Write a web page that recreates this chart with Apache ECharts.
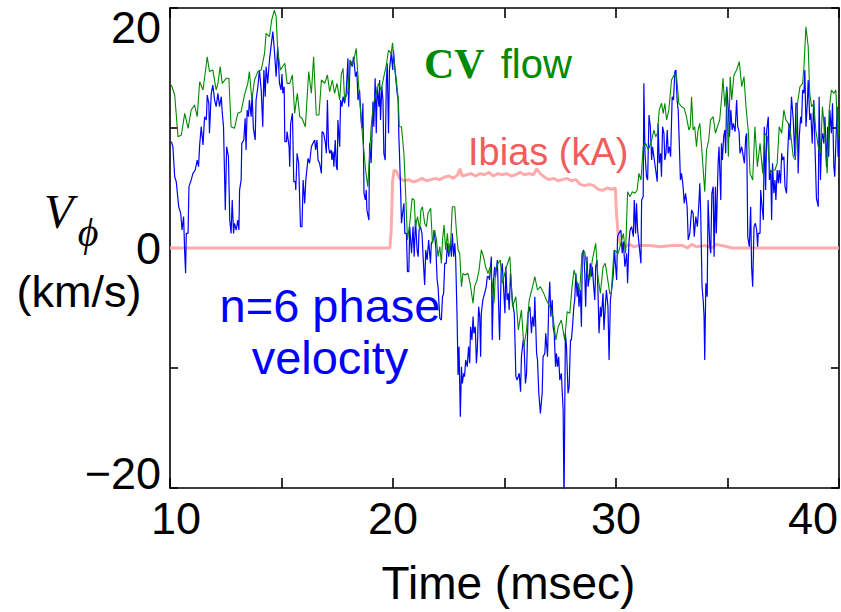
<!DOCTYPE html>
<html><head><meta charset="utf-8">
<script src="https://cdn.jsdelivr.net/npm/echarts@6/dist/echarts.min.js"></script>
<style>html,body{margin:0;padding:0;background:#fff}#c{width:841px;height:612px}</style>
</head><body><div id="c"></div>
<script>
// ---- data (time in msec, velocity in km/s, Ibias in kA) ----
const xTickLabels = [10, 20, 30, 40];
const yTickLabels = [-20, 0, 20];

const cvFlowPts = [
[10.06,13.58],[10.21,12.75],[10.36,9.28],[10.51,9.42],[10.66,11.22],[10.81,9.97],[10.95,11.5],[11.10,11.92],[11.22,10.94],[11.33,13.86],
[11.48,13.17],[11.67,15.94],[11.77,14.7],[11.92,14.83],[12.07,13.17],[12.15,13.72],[12.25,15.11],[12.34,13.72],[12.52,14.14],[12.64,14.14],
[12.74,10.11],[12.89,9.97],[13.04,11.22],[13.19,11.36],[13.34,12.75],[13.49,13.72],[13.56,14.7],[13.67,12.33],[13.79,14.0],[13.94,14.7],
[14.09,14.83],[14.24,16.22],[14.31,17.89],[14.46,17.61],[14.56,19.0],[14.68,19.83],[14.76,19.28],[14.83,16.5],[14.95,14.83],[15.15,15.39],
[15.25,13.72],[15.37,13.72],[15.49,14.42],[15.59,11.22],[15.71,12.89],[15.82,10.94],[15.92,10.81],[16.07,10.11],[16.22,14.7],[16.34,12.89],
[16.44,15.94],[16.56,11.08],[16.68,11.08],[16.79,14.0],[16.94,13.72],[17.06,14.42],[17.16,13.03],[17.28,14.0],[17.38,12.89],[17.49,13.72],
[17.61,12.33],[17.68,14.42],[17.76,14.97],[17.83,12.33],[17.98,13.03],[18.08,15.67],[18.20,15.25],[18.35,16.64],[18.43,14.28],[18.53,11.78],
[18.65,9.0],[18.77,6.5],[18.87,5.11],[19.02,10.11],[19.13,12.06],[19.25,12.89],[19.35,13.72],[19.47,13.17],[19.59,14.28],[19.70,15.25],
[19.80,16.5],[19.92,16.2],[19.98,17.1],[20.05,15.5],[20.15,14.0],[20.24,12.3],[20.28,10.11],[20.38,10.11],[20.49,7.89],[20.56,4.83],
[20.65,0.67],[20.75,2.06],[20.86,4.14],[20.95,4.0],[21.01,1.78],[21.10,2.61],[21.20,1.5],[21.25,3.17],[21.32,3.44],[21.42,2.06],
[21.50,1.78],[21.57,2.89],[21.69,3.31],[21.77,0.39],[21.87,1.5],[21.95,0.67],[22.02,-0.72],[22.10,0.11],[22.17,-1.28],[22.22,0.67],
[22.29,1.92],[22.36,-0.17],[22.44,1.22],[22.51,-0.44],[22.59,0.67],[22.66,3.44],[22.77,3.44],[22.84,1.5],[22.92,-0.17],[22.99,-0.44],
[23.07,-3.22],[23.14,-2.11],[23.24,-2.25],[23.36,-2.11],[23.47,-3.08],[23.59,-4.61],[23.66,-3.22],[23.77,-2.67],[23.86,-1.83],[23.96,-0.17],
[24.06,-0.72],[24.15,-1.56],[24.26,-2.11],[24.36,-1.56],[24.45,-2.94],[24.53,-4.61],[24.60,-1.83],[24.71,-1.28],[24.81,-1.0],[24.90,-2.94],
[25.09,-1.56],[25.24,-0.72],[25.36,-4.89],[25.51,-4.06],[25.62,-6.83],[25.76,-5.17],[25.87,-8.22],[25.99,-6.83],[26.11,-4.33],[26.26,-3.22],
[26.36,-2.39],[26.48,-3.5],[26.61,-3.22],[26.76,-3.78],[26.88,-4.33],[27.03,-4.89],[27.18,-5.72],[27.30,-7.67],[27.41,-6.56],[27.55,-6.0],
[27.70,-7.67],[27.81,-5.31],[27.93,-5.44],[28.03,-3.22],[28.12,-1.83],[28.23,-2.67],[28.37,-3.64],[28.48,-0.44],[28.60,-0.31],[28.72,-2.11],
[28.82,-2.67],[28.94,-1.0],[29.09,0.39],[29.19,-2.39],[29.30,-3.78],[29.42,-1.56],[29.52,-1.28],[29.61,-2.39],[29.72,-3.78],[29.79,-3.78],
[29.91,-0.17],[30.10,-0.44],[30.18,0.11],[30.33,1.22],[30.43,-0.44],[30.52,4.69],[30.63,4.28],[30.73,4.69],[30.85,4.56],[30.95,4.83],
[31.03,6.22],[31.12,5.67],[31.22,8.44],[31.33,8.72],[31.45,8.17],[31.60,9.0],[31.70,9.83],[31.78,9.28],[31.86,9.56],[31.94,11.5],
[32.04,12.06],[32.12,11.22],[32.19,12.06],[32.27,10.67],[32.37,11.5],[32.49,14.0],[32.61,14.42],[32.71,14.42],[32.82,12.06],[32.94,11.78],
[33.06,11.64],[33.16,10.94],[33.27,9.83],[33.33,10.11],[33.39,12.61],[33.46,9.83],[33.53,10.11],[33.61,8.44],[33.68,9.83],[33.76,10.39],
[33.86,7.89],[33.98,4.69],[34.06,8.17],[34.16,9.0],[34.24,10.67],[34.36,10.94],[34.46,9.56],[34.55,10.11],[34.65,10.67],[34.73,12.33],
[34.80,14.14],[34.88,11.78],[34.95,13.17],[35.04,7.61],[35.12,14.28],[35.19,12.33],[35.29,14.42],[35.41,14.83],[35.53,15.53],[35.64,13.44],
[35.74,14.28],[35.83,11.78],[35.94,9.56],[36.01,6.22],[36.13,5.67],[36.23,10.11],[36.34,6.78],[36.46,8.72],[36.58,6.22],[36.68,9.56],
[36.79,9.28],[36.91,6.22],[37.02,6.5],[37.13,6.5],[37.23,7.06],[37.32,10.11],[37.43,9.56],[37.53,11.5],[37.62,10.67],[37.73,10.39],
[37.83,9.56],[37.95,7.61],[38.05,7.33],[38.14,12.06],[38.25,13.44],[38.37,13.72],[38.43,15.11],[38.52,18.44],[38.62,16.78],[38.69,12.89],
[38.77,11.78],[38.87,12.06],[38.96,9.83],[39.07,8.44],[39.17,7.89],[39.26,11.78],[39.37,9.28],[39.47,6.22],[39.56,11.5],[39.66,13.17],
[39.77,12.89],[39.86,13.17],[39.96,9.0],[40.0,11.5]
];

const phaseVelPts = [
[10.06,8.86],[10.13,8.44],[10.21,5.94],[10.28,5.53],[10.39,3.44],[10.48,2.89],[10.54,1.5],[10.61,2.61],[10.66,-0.44],[10.70,-2.1],
[10.73,1.22],[10.81,1.22],[10.85,5.11],[10.95,5.67],[11.03,6.22],[11.13,6.5],[11.22,7.33],[11.28,6.78],[11.33,8.58],[11.40,10.11],
[11.48,8.58],[11.55,10.94],[11.63,10.67],[11.67,12.75],[11.74,12.06],[11.77,9.56],[11.85,12.89],[11.92,13.58],[12.00,12.33],[12.07,11.78],
[12.15,12.89],[12.22,11.78],[12.30,12.61],[12.34,11.36],[12.40,10.11],[12.48,3.17],[12.54,8.44],[12.62,7.61],[12.68,2.33],[12.74,1.22],
[12.79,4.0],[12.85,1.22],[12.89,2.06],[12.97,1.5],[13.04,2.33],[13.09,1.5],[13.12,4.83],[13.19,5.67],[13.22,8.72],[13.31,9.0],
[13.37,10.81],[13.41,8.17],[13.46,11.5],[13.52,10.94],[13.56,12.33],[13.64,10.94],[13.68,12.89],[13.74,9.97],[13.82,9.0],[13.86,12.33],
[13.94,13.44],[14.01,14.83],[14.09,13.17],[14.16,10.11],[14.21,14.83],[14.27,12.61],[14.31,15.11],[14.38,13.72],[14.46,15.67],[14.53,16.78],
[14.61,18.03],[14.68,16.5],[14.76,14.28],[14.83,16.78],[14.91,13.72],[14.98,13.17],[15.02,14.5],[15.06,12.89],[15.12,13.44],[15.15,8.86],
[15.22,8.86],[15.25,9.7],[15.34,8.44],[15.37,6.78],[15.41,10.39],[15.49,11.22],[15.55,5.53],[15.62,5.53],[15.64,4.83],[15.70,7.89],
[15.77,7.06],[15.85,1.78],[15.92,1.78],[15.97,5.67],[16.04,3.72],[16.09,5.67],[16.19,7.47],[16.26,7.06],[16.34,8.44],[16.41,8.72],
[16.49,9.0],[16.53,8.17],[16.59,9.0],[16.64,7.33],[16.71,7.06],[16.79,6.22],[16.82,9.7],[16.89,9.56],[16.97,8.72],[17.01,7.89],
[17.06,12.33],[17.11,8.44],[17.16,7.89],[17.23,8.17],[17.26,7.33],[17.31,8.03],[17.35,6.78],[17.41,9.0],[17.46,6.78],[17.50,6.5],
[17.53,10.67],[17.61,8.44],[17.65,12.33],[17.71,11.78],[17.76,12.61],[17.83,12.06],[17.90,12.89],[17.98,15.81],[18.01,11.78],[18.08,15.67],
[18.17,15.11],[18.23,15.94],[18.32,14.28],[18.38,14.7],[18.43,12.33],[18.50,13.17],[18.58,10.39],[18.62,9.97],[18.65,12.06],[18.70,4.56],
[18.76,4.0],[18.80,4.83],[18.83,3.17],[18.92,2.33],[18.95,8.72],[19.02,7.06],[19.10,12.19],[19.14,10.11],[19.20,14.14],[19.25,9.56],
[19.29,13.44],[19.37,11.78],[19.40,14.0],[19.44,10.67],[19.50,13.44],[19.55,12.33],[19.59,7.89],[19.65,7.33],[19.70,13.72],[19.74,15.39],
[19.80,9.56],[19.84,14.83],[19.92,16.22],[19.99,14.83],[20.02,16.5],[20.10,14.6],[20.18,13.0],[20.23,12.33],[20.26,9.56],[20.31,6.78],
[20.35,4.28],[20.38,2.06],[20.43,2.89],[20.49,3.72],[20.53,1.22],[20.60,1.22],[20.65,-1.97],[20.71,-1.97],[20.75,1.78],[20.83,-0.44],
[20.90,1.78],[20.95,-0.72],[21.01,2.33],[21.08,-0.17],[21.13,-0.72],[21.17,1.5],[21.23,1.78],[21.30,1.22],[21.35,-0.72],[21.42,-3.08],
[21.47,-0.17],[21.53,-1.0],[21.60,0.67],[21.68,-1.28],[21.72,0.39],[21.80,0.67],[21.84,1.5],[21.92,0.11],[21.98,-2.67],[22.02,-3.22],
[22.10,-5.86],[22.17,-6.0],[22.22,-4.06],[22.27,-3.78],[22.32,-1.28],[22.39,-1.28],[22.44,0.39],[22.50,-0.72],[22.57,0.39],[22.62,-0.72],
[22.66,1.22],[22.72,-0.72],[22.77,0.39],[22.81,-0.86],[22.87,-5.44],[22.92,-10.58],[22.96,-8.22],[23.02,-14.06],[23.07,-9.89],[23.11,-11.28],
[23.17,-10.44],[23.21,-10.72],[23.26,-9.33],[23.33,-9.89],[23.39,-8.22],[23.44,-9.61],[23.48,-6.56],[23.54,-7.67],[23.59,-5.72],[23.63,-7.11],
[23.69,-6.56],[23.74,-9.61],[23.78,-8.5],[23.84,-4.89],[23.89,-5.72],[23.93,-9.06],[23.96,-5.44],[24.03,-4.33],[24.11,-3.78],[24.18,-3.22],
[24.23,-2.39],[24.29,-2.39],[24.33,-2.67],[24.41,-0.72],[24.45,-7.67],[24.51,-2.67],[24.56,-1.56],[24.60,-2.39],[24.68,-1.0],[24.73,-4.33],
[24.78,-7.67],[24.85,-2.11],[24.90,-1.28],[24.94,-2.67],[25.02,-5.44],[25.06,-1.56],[25.12,-4.33],[25.17,-3.78],[25.21,-5.17],[25.27,-2.11],
[25.35,-4.33],[25.39,-4.89],[25.44,-5.44],[25.51,-10.72],[25.57,-11.0],[25.66,-10.44],[25.72,-11.97],[25.76,-9.06],[25.84,-7.67],[25.88,-8.22],
[25.94,-11.28],[25.99,-10.44],[26.06,-5.44],[26.14,-4.89],[26.21,-7.11],[26.26,-5.72],[26.32,-6.56],[26.36,-4.06],[26.44,-8.78],[26.48,-9.33],
[26.54,-12.11],[26.61,-13.78],[26.69,-12.11],[26.73,-9.06],[26.81,-8.78],[26.85,-7.11],[26.93,-9.06],[26.99,-4.33],[27.03,-2.81],[27.08,-5.72],
[27.14,-4.33],[27.18,-6.56],[27.23,-7.11],[27.29,-9.89],[27.33,-8.78],[27.38,-9.89],[27.43,-9.06],[27.48,-11.0],[27.55,-10.44],[27.63,-13.5],
[27.67,-21.5],[27.70,-21.5],[27.73,-7.11],[27.78,-8.22],[27.85,-12.11],[27.90,-11.56],[27.96,-7.67],[28.00,-7.67],[28.05,-6.56],[28.11,-4.89],
[28.15,-4.33],[28.20,-2.11],[28.26,-4.06],[28.30,-2.94],[28.34,-4.89],[28.40,-3.5],[28.45,-6.56],[28.49,-0.44],[28.55,-0.17],[28.60,-2.11],
[28.64,-4.89],[28.70,-0.72],[28.75,-3.22],[28.79,-2.67],[28.85,-1.28],[28.90,-2.39],[28.94,-1.56],[29.00,-3.22],[29.05,-4.33],[29.09,-1.56],
[29.15,-1.0],[29.19,-3.5],[29.24,-7.11],[29.30,-4.89],[29.34,-5.72],[29.42,-3.78],[29.46,-6.83],[29.52,-4.89],[29.57,-3.5],[29.64,-4.89],
[29.69,-9.33],[29.75,-4.33],[29.82,-3.22],[29.87,-2.39],[29.94,-0.17],[29.96,-1.0],[30.03,-2.67],[30.07,0.94],[30.13,1.22],[30.22,1.5],
[30.28,-0.44],[30.33,0.53],[30.40,-1.56],[30.48,-0.44],[30.52,-2.94],[30.58,0.39],[30.63,1.5],[30.70,1.78],[30.78,0.94],[30.82,4.0],
[30.88,1.22],[30.92,3.72],[30.97,1.5],[31.03,0.39],[31.12,-1.28],[31.15,4.0],[31.22,4.28],[31.25,13.72],[31.30,7.89],[31.37,5.94],
[31.42,5.67],[31.48,11.08],[31.54,10.11],[31.60,7.33],[31.64,8.44],[31.72,7.33],[31.78,6.5],[31.85,5.53],[31.89,10.39],[31.94,7.06],
[32.00,7.89],[32.04,5.94],[32.09,10.11],[32.15,9.56],[32.19,7.33],[32.24,7.89],[32.30,9.83],[32.34,7.89],[32.39,8.44],[32.45,7.61],
[32.52,12.61],[32.58,12.33],[32.64,14.7],[32.69,14.83],[32.74,12.33],[32.79,11.5],[32.83,9.28],[32.89,5.67],[32.94,6.22],[33.01,5.11],
[33.06,3.72],[33.12,4.56],[33.19,3.44],[33.24,0.67],[33.31,1.22],[33.39,3.17],[33.46,2.89],[33.51,0.94],[33.58,2.61],[33.65,1.78],
[33.71,3.44],[33.76,5.39],[33.80,2.89],[33.86,-3.22],[33.91,-4.33],[33.95,-5.72],[33.98,-9.33],[34.03,-2.94],[34.09,-4.06],[34.13,4.0],
[34.21,0.11],[34.25,-0.44],[34.30,4.56],[34.36,5.11],[34.40,-0.72],[34.46,5.11],[34.50,1.22],[34.58,7.06],[34.62,8.44],[34.70,4.0],
[34.73,8.72],[34.77,7.33],[34.83,9.28],[34.88,9.83],[34.92,7.89],[34.97,13.44],[35.04,11.5],[35.09,9.28],[35.15,11.5],[35.21,9.83],
[35.26,10.39],[35.34,9.69],[35.41,12.33],[35.46,10.11],[35.52,9.69],[35.56,7.89],[35.64,8.44],[35.71,7.61],[35.76,7.06],[35.82,9.28],
[35.86,9.56],[35.91,0.94],[35.98,0.11],[36.04,3.44],[36.08,-1.56],[36.13,-3.22],[36.19,1.78],[36.25,2.06],[36.31,1.5],[36.35,0.11],
[36.38,1.22],[36.46,1.22],[36.49,4.83],[36.55,3.44],[36.61,2.33],[36.65,10.11],[36.71,4.83],[36.76,9.83],[36.83,10.94],[36.88,5.67],
[36.94,6.5],[36.98,2.33],[37.02,7.06],[37.08,4.56],[37.13,5.67],[37.17,4.0],[37.23,6.5],[37.28,5.39],[37.32,6.5],[37.38,5.39],
[37.43,7.89],[37.47,7.33],[37.53,7.61],[37.58,5.11],[37.65,4.56],[37.70,7.89],[37.76,10.39],[37.80,9.0],[37.87,12.61],[37.95,10.67],
[38.02,7.61],[38.07,12.06],[38.13,12.06],[38.17,6.22],[38.22,9.28],[38.28,10.94],[38.32,10.39],[38.37,13.17],[38.43,12.89],[38.47,14.83],
[38.52,10.11],[38.58,12.06],[38.62,14.0],[38.69,10.67],[38.74,11.22],[38.80,8.72],[38.87,12.33],[38.92,8.72],[38.99,4.14],[39.07,3.44],
[39.11,12.61],[39.17,5.67],[39.22,9.0],[39.26,9.56],[39.32,8.72],[39.37,10.94],[39.44,6.78],[39.49,10.11],[39.54,7.61],[39.59,11.5],
[39.66,9.56],[39.71,12.06],[39.77,6.78],[39.81,5.94],[39.86,8.72],[39.92,11.78],[39.96,7.61],[40.0,9.28]
];

const ibiasPts = [
[10,0],[19.86,0],[19.92,1.5],[19.98,5.5],[20.05,6.5],[20.15,6.4],[20.3,5.8],[20.5,5.6],[20.7,5.7],[20.9,5.5],
[21.1,5.6],[21.3,5.8],[21.5,5.6],[21.7,5.7],[21.9,5.8],[22.1,5.7],[22.3,5.9],[22.5,6.0],[22.7,5.8],[22.9,6.1],
[23.0,6.6],[23.1,6.0],[23.3,6.1],[23.5,6.2],[23.7,6.0],[23.9,6.2],[24.1,6.1],[24.3,6.3],[24.5,6.0],[24.7,6.2],
[24.9,6.1],[25.1,6.2],[25.3,6.0],[25.5,6.1],[25.7,6.3],[25.9,6.1],[26.1,6.2],[26.3,6.1],[26.45,6.6],[26.6,6.2],
[26.8,5.9],[27.0,5.7],[27.2,5.8],[27.4,5.6],[27.6,5.7],[27.8,5.8],[28.0,5.6],[28.2,5.7],[28.4,5.3],[28.6,5.2],
[28.8,5.3],[29.0,5.2],[29.2,4.9],[29.4,4.8],[29.6,5.0],[29.8,4.9],[29.97,5.0],[30.02,3.0],[30.1,1.0],[30.2,0.3],
[30.4,0.1],[30.6,0.3],[30.8,0.1],[31.0,0.2],[31.5,0.2],[32.0,0.1],[32.5,0.2],[33.0,0.2],[33.2,0.0],[33.4,0.3],
[33.6,0.1],[34.0,0.2],[34.3,0.0],[34.5,0.3],[35.0,0.1],[35.2,0],[40,0]
];

// ---- chart ----
const SANS = "'Liberation Sans', Arial, Helvetica, sans-serif";
const SERIF = "'Liberation Serif', 'Times New Roman', 'DejaVu Serif', serif";
const chart = echarts.init(document.getElementById('c'), null, {renderer: 'svg', width: 841, height: 612});

const frameAxis = {
  type: 'value', min: 10, max: 40, interval: 5,
  axisLine: {show: true, onZero: false, lineStyle: {color: '#000', width: 1.6}},
  axisTick: {show: true, inside: true, length: 10, lineStyle: {color: '#000', width: 1.6}},
  splitLine: {show: false}
};

chart.setOption({
  animation: false,
  backgroundColor: '#fff',
  grid: {left: 170, right: 1, top: 8, bottom: 124, containLabel: false},
  xAxis: [
    Object.assign({}, frameAxis, {
      position: 'bottom',
      axisLabel: {
        show: true, fontSize: 45, fontFamily: SANS, color: '#000', margin: 8,
        showMinLabel: true, showMaxLabel: true,
        formatter: v => {
          if (!xTickLabels.includes(v)) return '';
          if (v === 10) return '{l|10}';
          if (v === 40) return '{r|40}';
          return String(v);
        },
        rich: {
          l: {fontSize: 45, fontFamily: SANS, padding: [0, 0, 0, 12]},
          r: {fontSize: 45, fontFamily: SANS, padding: [0, 52, 0, 0]}
        }
      },
      name: 'Time (msec)', nameLocation: 'middle', nameGap: 72,
      nameTextStyle: {fontSize: 46, fontFamily: SANS, color: '#000', padding: [0, 0, 0, 8]}
    }),
    Object.assign({}, frameAxis, {position: 'top', axisLabel: {show: false}})
  ],
  yAxis: [
    {
      type: 'value', min: -20, max: 20, interval: 10, position: 'left',
      axisLine: {show: true, onZero: false, lineStyle: {color: '#000', width: 1.6}},
      axisTick: {show: true, inside: true, length: 8, lineStyle: {color: '#000', width: 1.6}},
      splitLine: {show: false},
      axisLabel: {
        show: true, fontSize: 45, fontFamily: SANS, color: '#000', margin: 9,
        showMinLabel: true, showMaxLabel: true,
        formatter: v => {
          if (!yTickLabels.includes(v)) return '';
          if (v === 20) return '{t|20}';
          if (v === -20) return '{b|\u221220}';
          return String(v);
        },
        rich: {
          t: {fontSize: 45, fontFamily: SANS, padding: [38, 0, 0, 0]},
          b: {fontSize: 45, fontFamily: SANS, padding: [0, 0, 30, 0]}
        }
      }
    },
    {
      type: 'value', min: -20, max: 20, interval: 10, position: 'right',
      axisLine: {show: true, onZero: false, lineStyle: {color: '#000', width: 1.6}},
      axisTick: {show: true, inside: true, length: 8, lineStyle: {color: '#000', width: 1.6}},
      splitLine: {show: false},
      axisLabel: {show: false}
    }
  ],
  series: [
    {
      name: 'Ibias (kA)', type: 'line', data: ibiasPts, xAxisIndex: 0, yAxisIndex: 0,
      showSymbol: false, clip: true, z: 2,
      lineStyle: {color: '#ffabab', width: 3}
    },
    {
      name: 'n=6 phase velocity', type: 'line', data: phaseVelPts, xAxisIndex: 0, yAxisIndex: 0,
      showSymbol: false, clip: true, z: 3,
      lineStyle: {color: '#0000ff', width: 1.2}
    },
    {
      name: 'CV flow', type: 'line', data: cvFlowPts, xAxisIndex: 0, yAxisIndex: 0,
      showSymbol: false, clip: true, z: 4,
      lineStyle: {color: '#008a00', width: 1.1}
    }
  ],
  graphic: [
    {type: 'text', x: 424, y: 64, z: 10, style: {
      text: '{a|CV}{b|flow}', verticalAlign: 'middle', align: 'left',
      rich: {
        a: {font: 'bold 42px ' + SERIF, fill: '#008a00'},
        b: {font: '40px ' + SANS, fill: '#008a00', padding: [0, 0, 0, 16]}
      }
    }},
    {type: 'text', x: 468, y: 152, z: 10, style: {
      text: 'Ibias (kA)', font: '38px ' + SANS, fill: '#f25c5c', align: 'left', verticalAlign: 'middle'
    }},
    {type: 'text', x: 330, y: 305, z: 10, style: {
      text: 'n=6 phase', font: '47px ' + SANS, fill: '#0000ff', align: 'center', verticalAlign: 'middle'
    }},
    {type: 'text', x: 330, y: 357, z: 10, style: {
      text: 'velocity', font: '47px ' + SANS, fill: '#0000ff', align: 'center', verticalAlign: 'middle'
    }},
    {type: 'text', x: 44, y: 211, z: 10, style: {
      text: 'V', font: 'italic 48px ' + SERIF, fill: '#000', align: 'left', verticalAlign: 'middle'
    }},
    {type: 'text', x: 88, y: 232, z: 10, style: {
      text: '\u03D5', font: 'italic 40px ' + SERIF, fill: '#000', align: 'center', verticalAlign: 'middle'
    }},
    {type: 'text', x: 79, y: 291, z: 10, style: {
      text: '(km/s)', font: '45px ' + SANS, fill: '#000', align: 'center', verticalAlign: 'middle'
    }}
  ]
});
</script>
</body></html>
